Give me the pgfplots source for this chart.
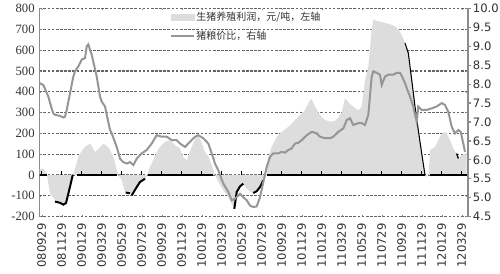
\documentclass[border=0pt]{standalone}
\usepackage{fontspec}
\usepackage{pgfplots}
\pgfplotsset{compat=1.18}
\setmainfont{DejaVu Sans}
\newfontfamily\cjk{Noto Sans CJK SC}
\newfontfamily\lserif{Liberation Serif}
\definecolor{areagray}{RGB}{221,221,221}
\definecolor{linegray}{RGB}{150,150,150}
\definecolor{gridgray}{RGB}{100,100,100}
\definecolor{axisgray}{RGB}{140,140,140}
\definecolor{txt}{RGB}{50,50,50}

\pgfplotstableread{
m P
-0.24 0
-0.24 30
0.2 28
0.45 12
0.6 -20
0.83 -90
1.33 -120
1.83 -132
2.16 -143
2.43 -135
2.66 -90
2.9 -42
3.1 0
3.3 25
3.66 86
4.0 115
4.33 135
4.83 151
5.1 130
5.33 110
5.66 125
6.16 150
6.5 140
6.83 120
7.2 80
7.66 0
8.0 -26
8.33 -85
8.83 -88
9.16 -97
9.5 -58
9.83 -34
10.16 -21
10.33 -18
10.55 0
10.7 25
11.0 55
11.5 110
11.83 135
12.33 159
12.83 167
13.33 143
13.83 127
14.16 86
14.5 70
15.0 135
15.5 186
15.83 175
16.33 110
16.66 90
17.0 50
17.33 0
17.66 -34
18.16 -74
18.66 -107
19.0 -139
19.26 -163
19.5 -82
19.83 -55
20.16 -45
20.5 -66
20.83 -80
21.16 -87
21.5 -78
21.83 -58
22.16 -26
22.5 0
22.66 86
23.0 135
23.5 183
24.0 207
24.66 231
25.33 264
25.83 288
26.33 312
26.83 360
27.0 365
27.33 328
27.83 288
28.33 264
28.83 256
29.33 260
29.66 275
30.0 300
30.33 368
30.83 340
31.16 328
31.66 310
32.0 328
32.33 457
32.66 521
33.0 699
33.16 747
33.5 740
34.0 735
34.33 731
35.0 722
35.33 715
35.66 699
36.0 674
36.33 634
36.66 586
37.0 457
37.33 328
37.66 215
38.0 103
38.33 0
38.5 -10
38.7 0
38.83 119
39.33 135
39.83 183
40.16 207
40.5 200
40.83 167
41.16 127
41.5 103
41.66 79
41.83 90
42.16 100
42.5 105
42.5 0
}\profit

\pgfplotstableread{
m R
-0.24 8.03
0.16 7.98
0.66 7.67
1.0 7.35
1.16 7.23
1.33 7.19
1.83 7.16
2.16 7.12
2.33 7.14
2.5 7.32
2.83 7.76
3.16 8.20
3.33 8.34
3.66 8.47
4.0 8.65
4.33 8.69
4.5 9.0
4.66 9.05
4.83 8.91
5.0 8.78
5.5 8.20
5.83 7.67
6.0 7.54
6.33 7.41
6.5 7.19
6.83 6.79
7.0 6.70
7.5 6.34
7.83 6.03
8.16 5.94
8.5 5.90
8.83 5.94
9.16 5.86
9.5 6.03
10.0 6.17
10.5 6.26
11.0 6.43
11.5 6.65
12.0 6.61
12.5 6.61
13.0 6.52
13.5 6.52
13.83 6.43
14.33 6.34
14.83 6.48
15.33 6.61
15.66 6.65
16.16 6.57
16.66 6.43
17.0 6.17
17.33 5.90
17.66 5.72
18.16 5.37
18.66 5.15
19.0 4.93
19.33 4.97
19.83 5.10
20.16 5.01
20.5 4.93
20.83 4.79
21.16 4.75
21.5 4.77
21.83 5.01
22.16 5.41
22.5 5.81
22.83 6.08
23.16 6.17
23.66 6.17
24.0 6.21
24.33 6.19
24.66 6.26
25.0 6.30
25.33 6.43
25.66 6.45
26.0 6.52
26.5 6.65
27.0 6.74
27.5 6.70
27.83 6.61
28.33 6.57
28.83 6.57
29.16 6.61
29.66 6.74
30.16 6.83
30.5 7.05
30.83 7.10
31.16 6.92
31.66 6.97
32.0 6.97
32.33 6.92
32.66 7.19
33.0 8.20
33.16 8.34
33.5 8.30
33.83 8.25
34.0 7.98
34.33 8.20
34.66 8.25
35.16 8.25
35.5 8.30
35.83 8.30
36.0 8.22
36.33 8.03
36.5 7.90
36.83 7.67
37.16 7.41
37.33 7.19
37.5 7.01
37.66 7.41
38.0 7.32
38.5 7.32
39.0 7.36
39.5 7.41
40.0 7.50
40.33 7.45
40.66 7.27
41.0 6.87
41.33 6.70
41.66 6.79
41.9 6.74
42.16 6.43
42.33 6.21
}\ratio

\begin{document}
\begin{tikzpicture}
\begin{axis}[
  scale only axis, width=321.5pt, height=156pt, xmin=-0.24, xmax=42.63,
  at={(0pt,0pt)}, anchor=south west,
  ymin=-200, ymax=800,
  ytick={-200,-100,0,100,200,300,400,500,600,700,800},
  yticklabels={-200,-100,0,100,200,300,400,500,600,700,800},
  yticklabel style={font=\lserif\fontsize{9.5pt}{9.5pt}\selectfont, text=txt},
  xtick={0,2,...,42},
  xticklabels={080929,081129,090129,090329,090529,090729,090929,091129,100129,100329,100529,100729,100929,101129,110129,110329,110529,110729,110929,111129,120129,120329},
  xticklabel style={font=\fontsize{8.7pt}{8.7pt}\selectfont, text=txt, rotate=90, anchor=east, inner sep=0pt, xshift=-5pt},
  separate axis lines,
  x axis line style={draw=none},
  y axis line style={draw=axisgray, line width=1pt},
  ymajorgrids=true,
  grid style={gridgray, line width=0.9pt, dash pattern=on 2pt off 1.1pt},
  ytick style={axisgray},
  major tick length=1.2pt,
]
\addplot[fill=areagray, draw=none] table[x=m, y=P] {\profit};
\addplot[black, line width=1.9pt] coordinates {(-0.24,0) (0.53,0)};
\addplot[black, line width=1.5pt] coordinates {(1.33,-128) (1.83,-134) (2.16,-143) (2.43,-135) (2.66,-90) (2.9,-42) (3.1,0)};
\addplot[black, line width=1.9pt] coordinates {(3.5,0) (7.5,0)};
\addplot[black, line width=1.5pt] coordinates {(8.4,-85) (8.83,-88)};
\addplot[black, line width=1.5pt] coordinates {(9.0,-98) (9.5,-58) (9.83,-34) (10.33,-18)};
\addplot[black, line width=1.9pt] coordinates {(10.66,0) (17.16,0)};
\addplot[black, line width=1.5pt] coordinates {(19.26,-163) (19.5,-82) (19.83,-55) (20.16,-42)};
\addplot[black, line width=1.5pt] coordinates {(21.16,-87) (21.5,-78) (21.83,-58) (22.16,-26)};
\addplot[black, line width=1.9pt] coordinates {(22.5,0) (38.33,0)};
\addplot[black, line width=1.9pt] coordinates {(38.83,0) (42.63,0)};
\addplot[black, line width=0.8pt] coordinates {(36.33,634) (36.66,586) (37.0,457) (37.33,328) (37.66,215) (38.0,103) (38.33,0)};
\addplot[black, line width=1pt] coordinates {(41.5,103) (41.66,79)};
\pgfplotsinvokeforeach{0,2,...,42}{\draw[black, line width=1pt] (axis cs:#1,0) -- ++(0pt,3.2pt);}
\draw[axisgray, line width=1pt] (rel axis cs:0,0) -- (rel axis cs:0,1);
\end{axis}
\begin{axis}[
  scale only axis, width=321.5pt, height=156pt, xmin=-0.24, xmax=42.63,
  at={(0pt,0pt)}, anchor=south west,
  ymin=4.5, ymax=10,
  axis x line=none,
  axis y line*=right,
  y axis line style={axisgray, line width=1pt},
  ytick={4.5,5,5.5,6,6.5,7,7.5,8,8.5,9,9.5,10},
  yticklabels={4.5,5.0,5.5,6.0,6.5,7.0,7.5,8.0,8.5,9.0,9.5,10.0},
  ytick style={axisgray, line width=1pt},
  tick align=outside, major tick length=2.5pt,
  yticklabel style={font=\fontsize{8.7pt}{8.7pt}\selectfont, text=txt, inner sep=1pt},
  legend style={draw=none, fill=none, at={(0.305,0.99)}, anchor=north west, inner sep=0pt, font=\cjk\fontsize{7.5pt}{8pt}\selectfont, text=txt, row sep=4pt, nodes={inner sep=1pt}},
  legend cell align=left,
]
\addlegendimage{legend image code/.code={\fill[areagray] (0cm,-0.08cm) rectangle (0.6cm,0.08cm);}}
\addlegendentry{生猪养殖利润，元/吨，左轴}
\addplot[linegray, line width=1.5pt] table[x=m, y=R] {\ratio};
\addlegendentry{猪粮价比，右轴}
\draw[axisgray, line width=1pt] (rel axis cs:1,0) -- (rel axis cs:1,1);
\end{axis}
\pgfresetboundingbox
\path (-29.5pt,-43.1pt) rectangle (345.5pt,162.4pt);
\end{tikzpicture}
\end{document}
